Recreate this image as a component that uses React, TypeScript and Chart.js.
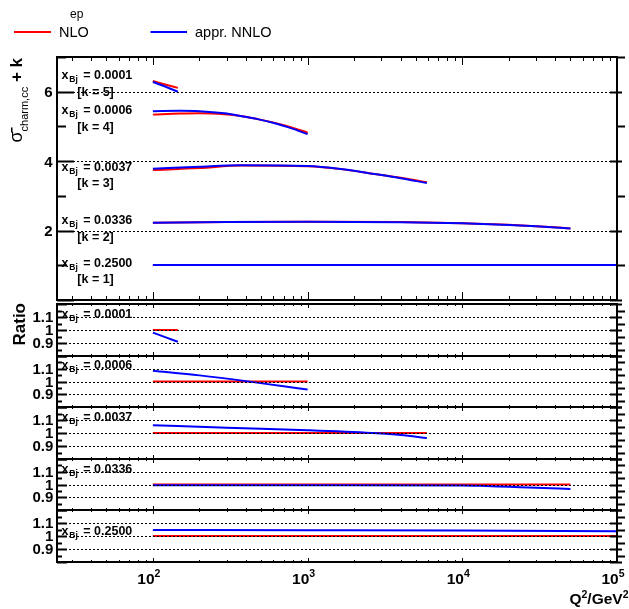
import React, { useEffect, useRef } from "react";
import { Chart, registerables } from "chart.js";

Chart.register(...registerables);

// ---------------- data ----------------
const X_MIN = 24;
const X_MAX = 1e5;

const xbjLabels = ["0.0001", "0.0006", "0.0037", "0.0336", "0.2500"];
const kLabels = ["5", "4", "3", "2", "1"];
const seriesNames = ["NLO", "appr. NNLO"];
const topYTicks = [2, 4, 6];
const ratioYTicks = ["1.1", "1", "0.9"];

// top panel: sigma + k
const q2_k5 = [100, 120, 145];
const nlo_k5 = [6.31, 6.21, 6.11];
const nnlo_k5 = [6.28, 6.15, 6.0];

const q2_k4 = [100, 150, 200, 290, 370, 475, 605, 780, 1000];
const nlo_k4 = [5.34, 5.37, 5.38, 5.35, 5.3, 5.21, 5.11, 4.98, 4.82];
const nnlo_k4 = [5.44, 5.45, 5.44, 5.38, 5.3, 5.21, 5.1, 4.95, 4.78];

const q2_k3 = [100, 200, 370, 1000, 1640, 2700, 4000, 5900];
const nlo_k3 = [3.745, 3.8, 3.872, 3.85, 3.77, 3.63, 3.52, 3.39];
const nnlo_k3 = [3.78, 3.84, 3.88, 3.86, 3.775, 3.63, 3.51, 3.37];

const q2_k2 = [100, 300, 1000, 4000, 10000, 20000, 30000, 50000];
const nlo_k2 = [2.226, 2.245, 2.255, 2.245, 2.21, 2.165, 2.128, 2.063];
const nnlo_k2 = [2.225, 2.244, 2.254, 2.243, 2.208, 2.162, 2.124, 2.06];

const q2_k1 = [100, 1000, 10000, 100000];
const nlo_k1 = [1.01, 1.01, 1.01, 1.01];
const nnlo_k1 = [1.0105, 1.0105, 1.0105, 1.0104];

// ratio panels: appr. NNLO / NLO
const rq2_1 = [100, 120, 145];
const rnlo_1 = [1, 1, 1];
const rnnlo_1 = [0.98, 0.945, 0.91];

const rq2_2 = [100, 200, 400, 700, 1000];
const rnlo_2 = [1, 1, 1, 1, 1];
const rnnlo_2 = [1.085, 1.048, 1.003, 0.962, 0.938];

const rq2_3 = [100, 300, 1000, 2600, 4000, 5900];
const rnlo_3 = [1, 1, 1, 1, 1, 1];
const rnnlo_3 = [1.06, 1.04, 1.021, 1.0, 0.985, 0.961];

const rq2_4 = [100, 1000, 10000, 13000, 20000, 30000, 50000];
const rnlo_4 = [1, 1, 1, 1, 1, 1, 1];
const rnnlo_4 = [0.995, 0.995, 0.993, 0.99, 0.982, 0.975, 0.964];

const rq2_5 = [100, 1000, 10000, 100000];
const rnlo_5 = [1, 1, 1, 1];
const rnnlo_5 = [1.047, 1.045, 1.042, 1.036];

// ---------------- layout / style ----------------
const W = 629;
const H = 609;
const LEFT = 57;
const RIGHT = 617;
const RED = "#ff0000";
const BLUE = "#0000ff";
const FONT = '"Liberation Sans", Arial, Helvetica, sans-serif';

type Series = { q2: number[]; v: number[]; color: string; order: number };
type Panel = {
  kind: "main" | "ratio";
  top: number;
  bottom: number;
  yMin: number;
  yMax: number;
  series: Series[];
  idx: number;
};

const pair = (q: number[], a: number[], b: number[]): Series[] => [
  { q2: q, v: a, color: RED, order: 1 },
  { q2: q, v: b, color: BLUE, order: 0 },
];

const panels: Panel[] = [
  {
    kind: "main",
    top: 57,
    bottom: 300,
    yMin: 0,
    yMax: 7,
    idx: -1,
    series: [
      ...pair(q2_k5, nlo_k5, nnlo_k5),
      ...pair(q2_k4, nlo_k4, nnlo_k4),
      ...pair(q2_k3, nlo_k3, nnlo_k3),
      ...pair(q2_k2, nlo_k2, nnlo_k2),
      ...pair(q2_k1, nlo_k1, nnlo_k1),
    ],
  },
  { kind: "ratio", top: 304, bottom: 356, yMin: 0.8, yMax: 1.2, idx: 0, series: pair(rq2_1, rnlo_1, rnnlo_1) },
  { kind: "ratio", top: 356, bottom: 407, yMin: 0.8, yMax: 1.2, idx: 1, series: pair(rq2_2, rnlo_2, rnnlo_2) },
  { kind: "ratio", top: 407, bottom: 459, yMin: 0.8, yMax: 1.2, idx: 2, series: pair(rq2_3, rnlo_3, rnnlo_3) },
  { kind: "ratio", top: 459, bottom: 510, yMin: 0.8, yMax: 1.2, idx: 3, series: pair(rq2_4, rnlo_4, rnnlo_4) },
  { kind: "ratio", top: 510, bottom: 562, yMin: 0.8, yMax: 1.2, idx: 4, series: pair(rq2_5, rnlo_5, rnnlo_5) },
];

const mainLabelBase = [79, 114, 170.7, 224, 266.7];
const ratioLabelBase = [317.7, 369, 420.7, 472.7, 535];

function drawXbj(ctx: CanvasRenderingContext2D, label: string, baseY: number) {
  ctx.fillStyle = "#000";
  ctx.textAlign = "left";
  ctx.textBaseline = "alphabetic";
  ctx.font = `bold 12.5px ${FONT}`;
  ctx.fillText("x", 61.5, baseY);
  ctx.font = `bold 8.5px ${FONT}`;
  ctx.fillText("Bj", 69.3, baseY + 3);
  ctx.font = `bold 12.5px ${FONT}`;
  ctx.fillText("= " + label, 83.3, baseY);
}

function drawSup(ctx: CanvasRenderingContext2D, base: string, sup: string, x: number, y: number, size: number, align: "center" | "right") {
  ctx.font = `bold ${size}px ${FONT}`;
  const w1 = ctx.measureText(base).width;
  ctx.font = `bold ${size * 0.68}px ${FONT}`;
  const w2 = ctx.measureText(sup).width;
  const total = w1 + w2;
  const x0 = align === "center" ? x - total / 2 : x - total;
  ctx.textAlign = "left";
  ctx.font = `bold ${size}px ${FONT}`;
  ctx.fillText(base, x0, y);
  ctx.font = `bold ${size * 0.68}px ${FONT}`;
  ctx.fillText(sup, x0 + w1, y - size * 0.42);
}

function makePlugin(p: Panel) {
  return {
    id: "rootStyle",
    afterDatasetsDraw(chart: any) {
      const ctx: CanvasRenderingContext2D = chart.ctx;
      const ys = chart.scales.y;
      const grid = p.kind === "main" ? topYTicks : ratioYTicks.map(Number);
      ctx.save();
      ctx.strokeStyle = "#000";
      ctx.lineWidth = 1;
      ctx.setLineDash([2, 2]);
      for (const g of grid) {
        const y = Math.round(ys.getPixelForValue(g)) + 0.5;
        ctx.beginPath();
        ctx.moveTo(LEFT, y);
        ctx.lineTo(RIGHT, y);
        ctx.stroke();
      }
      ctx.restore();
    },
    afterDraw(chart: any) {
      const ctx: CanvasRenderingContext2D = chart.ctx;
      const xs = chart.scales.x;
      const ys = chart.scales.y;
      const { top, bottom } = chart.chartArea;
      ctx.save();
      ctx.strokeStyle = "#000";
      ctx.setLineDash([]);

      // x ticks
      ctx.lineWidth = 1;
      const majX = p.kind === "main" ? 8 : 4;
      const minX = p.kind === "main" ? 4 : 2;
      for (let d = 1; d <= 5; d++) {
        for (let m = 1; m <= 9; m++) {
          const v = m * Math.pow(10, d);
          if (v < X_MIN || v > X_MAX) continue;
          const x = Math.round(xs.getPixelForValue(v)) + 0.5;
          const len = m === 1 ? majX : minX;
          ctx.beginPath();
          ctx.moveTo(x, top);
          ctx.lineTo(x, top + len);
          ctx.moveTo(x, bottom);
          ctx.lineTo(x, bottom - len);
          ctx.stroke();
        }
      }

      // y ticks
      if (p.kind === "main") {
        for (let v = 0; v <= 7; v++) {
          const y = Math.round(ys.getPixelForValue(v)) + 0.5;
          const major = v % 2 === 0;
          ctx.lineWidth = 2;
          ctx.beginPath();
          ctx.moveTo(LEFT, y);
          ctx.lineTo(LEFT + (major ? 17 : 9), y);
          ctx.moveTo(RIGHT - (major ? 7 : 0), y);
          ctx.lineTo(RIGHT + (major ? 5 : 8), y);
          ctx.stroke();
        }
      } else {
        for (let i = 0; i <= 8; i++) {
          const v = 0.8 + i * 0.05;
          const y = Math.round(ys.getPixelForValue(v)) + 0.5;
          const major = i % 2 === 0;
          ctx.lineWidth = 2;
          ctx.beginPath();
          ctx.moveTo(LEFT, y);
          ctx.lineTo(LEFT + (major ? 10 : 5), y);
          ctx.moveTo(RIGHT - (major ? 7 : 0), y);
          ctx.lineTo(RIGHT + (major ? 5 : 8), y);
          ctx.stroke();
        }
      }

      // frame
      ctx.lineWidth = 2;
      ctx.strokeRect(LEFT, top, RIGHT - LEFT, bottom - top);

      // labels
      ctx.fillStyle = "#000";
      ctx.textBaseline = "alphabetic";
      if (p.kind === "main") {
        ctx.font = `bold 15px ${FONT}`;
        ctx.textAlign = "right";
        for (const t of topYTicks) {
          ctx.fillText(String(t), 52.7, ys.getPixelForValue(t) + 5.4);
        }
        for (let i = 0; i < xbjLabels.length; i++) {
          drawXbj(ctx, xbjLabels[i], mainLabelBase[i]);
          ctx.font = `bold 12.5px ${FONT}`;
          ctx.textAlign = "left";
          ctx.fillText(`[k = ${kLabels[i]}]`, 77.3, mainLabelBase[i] + 16.5);
        }
        // legend
        ctx.font = `12px ${FONT}`;
        ctx.textAlign = "left";
        ctx.fillText("ep", 70, 18.3);
        ctx.font = `14.5px ${FONT}`;
        ctx.fillText(seriesNames[0], 59, 37);
        ctx.fillText(seriesNames[1], 195, 37);
        ctx.lineWidth = 2;
        ctx.strokeStyle = RED;
        ctx.beginPath();
        ctx.moveTo(14, 32);
        ctx.lineTo(51, 32);
        ctx.stroke();
        ctx.strokeStyle = BLUE;
        ctx.beginPath();
        ctx.moveTo(150.5, 32);
        ctx.lineTo(187, 32);
        ctx.stroke();
        // y title
        ctx.save();
        ctx.translate(22, 58);
        ctx.rotate(-Math.PI / 2);
        ctx.textAlign = "left";
        const partsW: number[] = [];
        ctx.font = `18px ${FONT}`;
        partsW.push(ctx.measureText("σ").width);
        ctx.font = `11px ${FONT}`;
        partsW.push(ctx.measureText("charm,cc").width);
        ctx.font = `bold 17px ${FONT}`;
        partsW.push(ctx.measureText(" + k").width);
        const total = partsW[0] + partsW[1] + partsW[2];
        let cx = -total;
        ctx.font = `18px ${FONT}`;
        ctx.fillText("σ", cx, 0);
        ctx.fillRect(cx + partsW[0] - 1, -11, 5, 1.5);
        cx += partsW[0];
        ctx.font = `11px ${FONT}`;
        ctx.fillText("charm,cc", cx, 6);
        cx += partsW[1];
        ctx.font = `bold 17px ${FONT}`;
        ctx.fillText(" + k", cx, 0);
        ctx.restore();
      } else {
        ctx.font = `bold 15px ${FONT}`;
        ctx.textAlign = "right";
        for (const t of ratioYTicks) {
          ctx.fillText(t, 53.3, ys.getPixelForValue(Number(t)) + 5.2);
        }
        drawXbj(ctx, xbjLabels[p.idx], ratioLabelBase[p.idx]);
        if (p.idx === 0) {
          ctx.save();
          ctx.translate(25, 303);
          ctx.rotate(-Math.PI / 2);
          ctx.font = `bold 17px ${FONT}`;
          ctx.textAlign = "right";
          ctx.fillText("Ratio", 0, 0);
          ctx.restore();
        }
        if (p.idx === 4) {
          ctx.fillStyle = "#000";
          for (let d = 2; d <= 5; d++) {
            const x = xs.getPixelForValue(Math.pow(10, d));
            drawSup(ctx, "10", String(d), x - 4, 584, 15.5, "center");
          }
          ctx.textAlign = "left";
          drawSup(ctx, "Q", "2", 0, 0, 0.0001, "right");
          // axis title Q^2/GeV^2
          ctx.font = `bold 15.5px ${FONT}`;
          const wQ = ctx.measureText("Q").width;
          const wG = ctx.measureText("/GeV").width;
          ctx.font = `bold 10.5px ${FONT}`;
          const wS = ctx.measureText("2").width;
          const tot = wQ + wS + wG + wS;
          let tx = 628.5 - tot;
          const by = 604;
          ctx.font = `bold 15.5px ${FONT}`;
          ctx.fillText("Q", tx, by);
          tx += wQ;
          ctx.font = `bold 10.5px ${FONT}`;
          ctx.fillText("2", tx, by - 6.5);
          tx += wS;
          ctx.font = `bold 15.5px ${FONT}`;
          ctx.fillText("/GeV", tx, by);
          tx += wG;
          ctx.font = `bold 10.5px ${FONT}`;
          ctx.fillText("2", tx, by - 6.5);
        }
      }
      ctx.restore();
    },
  };
}

function PanelChart({ p }: { p: Panel }) {
  const ref = useRef<HTMLCanvasElement | null>(null);
  useEffect(() => {
    if (!ref.current) return;
    const chart = new Chart(ref.current, {
      type: "line",
      data: {
        datasets: p.series.map((s) => ({
          data: s.q2.map((q, i) => ({ x: q, y: s.v[i] })),
          borderColor: s.color,
          backgroundColor: s.color,
          borderWidth: 2,
          pointRadius: 0,
          fill: false,
          order: s.order,
          cubicInterpolationMode: "monotone" as const,
        })),
      },
      options: {
        responsive: false,
        maintainAspectRatio: false,
        animation: false,
        devicePixelRatio: 1,
        events: [],
        layout: { padding: { left: LEFT, right: W - RIGHT, top: p.top, bottom: H - p.bottom } },
        scales: {
          x: { type: "logarithmic", min: X_MIN, max: X_MAX, display: false },
          y: { type: "linear", min: p.yMin, max: p.yMax, display: false },
        },
        plugins: { legend: { display: false }, tooltip: { enabled: false }, title: { display: false } },
      },
      plugins: [makePlugin(p)],
    } as any);
    return () => chart.destroy();
  }, [p]);
  return (
    <canvas
      ref={ref}
      width={W}
      height={H}
      style={{ position: "absolute", left: 0, top: 0, width: W, height: H }}
    />
  );
}

export default function App() {
  return (
    <div style={{ position: "fixed", left: 0, top: 0, width: W, height: H, background: "#fff" }}>
      {panels.map((p, i) => (
        <PanelChart key={i} p={p} />
      ))}
    </div>
  );
}
